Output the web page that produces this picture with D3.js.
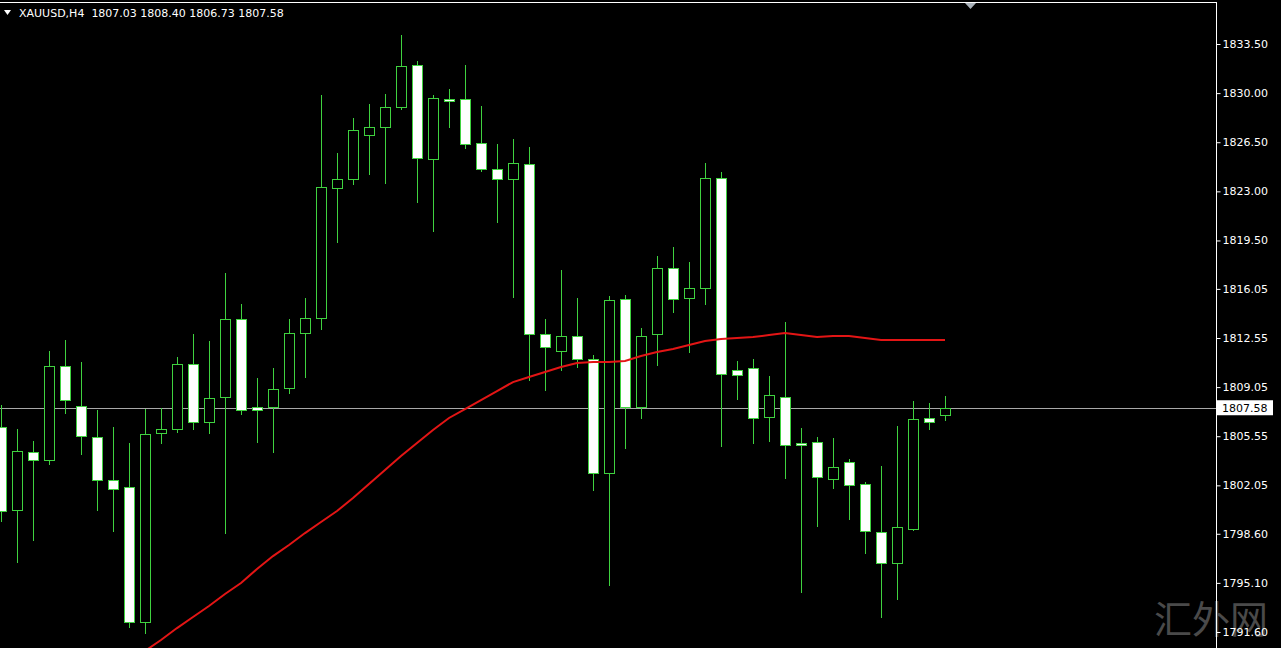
<!DOCTYPE html>
<html>
<head>
<meta charset="utf-8">
<script src="https://cdn.jsdelivr.net/npm/d3@7"></script>
<style>
  html, body { margin: 0; padding: 0; background: #000; overflow: hidden; }
  svg { display: block; }
</style>
</head>
<body>
<svg id="chart" width="1281" height="648"></svg>
<script>
// ---- data (XAUUSD, H4) ----
const symbol = "XAUUSD,H4";
const lastBar = ["1807.03", "1808.40", "1806.73", "1807.58"];
const bars = d3.range(60);
const opens  = [1806.21,1800.29,1804.43,1803.86,1810.55,1807.70,1805.50,1802.43,1801.93,1792.31,
                1805.78,1806.06,1810.70,1806.56,1808.35,1813.90,1807.60,1807.63,1808.99,1812.91,
                1813.97,1823.24,1823.88,1827.02,1827.59,1829.01,1832.00,1825.31,1829.55,1829.58,
                1826.45,1824.59,1823.88,1824.95,1812.83,1811.62,1812.69,1811.05,1802.93,1815.33,
                1807.63,1812.83,1817.54,1815.40,1816.11,1823.95,1810.27,1810.41,1806.92,1808.35,
                1805.10,1805.14,1802.50,1803.71,1802.15,1798.72,1796.52,1798.94,1806.85,1807.03];
const highs  = [1807.78,1806.06,1805.21,1811.62,1812.41,1810.84,1807.42,1806.21,1805.07,1807.49,
                1807.56,1811.20,1812.83,1812.34,1817.18,1814.97,1809.70,1810.41,1813.90,1815.40,
                1829.87,1825.73,1828.23,1829.22,1829.94,1834.14,1832.29,1829.87,1830.29,1832.00,
                1829.08,1826.37,1826.73,1826.16,1813.90,1817.40,1815.40,1811.34,1815.54,1815.61,
                1813.26,1818.39,1819.03,1817.97,1825.02,1824.38,1810.91,1811.05,1809.84,1813.69,
                1806.14,1805.50,1805.42,1803.93,1802.29,1803.43,1806.28,1808.06,1807.92,1808.40];
const lows   = [1799.51,1796.59,1798.16,1803.57,1807.21,1804.28,1800.29,1798.80,1791.96,1791.53,
                1805.07,1805.85,1806.06,1805.78,1798.65,1807.13,1805.14,1804.43,1808.63,1809.77,
                1813.19,1819.39,1823.52,1824.24,1823.59,1828.87,1822.24,1820.17,1827.59,1826.09,
                1824.45,1820.82,1815.47,1809.56,1808.84,1810.27,1810.48,1801.72,1794.95,1804.71,
                1806.85,1810.63,1814.40,1811.55,1814.97,1804.85,1808.20,1805.07,1805.21,1802.57,
                1794.45,1799.15,1801.86,1799.65,1797.23,1792.67,1793.95,1798.85,1806.06,1806.73];
const closes = [1800.22,1804.50,1803.86,1810.55,1808.13,1805.57,1802.43,1801.79,1792.31,1805.71,
                1806.06,1810.70,1806.56,1808.27,1813.90,1807.42,1807.40,1808.92,1812.91,1813.97,
                1823.31,1823.88,1827.37,1827.59,1829.01,1831.93,1825.38,1829.65,1829.47,1826.37,
                1824.59,1823.88,1825.02,1812.83,1811.91,1812.69,1811.05,1802.93,1815.26,1807.63,
                1812.69,1817.54,1815.33,1816.11,1823.95,1809.98,1809.91,1806.85,1808.49,1804.92,
                1804.92,1802.64,1803.36,1802.07,1798.80,1796.52,1799.08,1806.78,1806.56,1807.58];
const maValues = [null,null,null,null,null,null,null,null,null,1790.25,
                1791.03,1791.88,1792.67,1793.45,1794.31,1795.09,1796.09,1797.01,1797.80,1798.65,
                1799.44,1800.22,1801.15,1802.15,1803.14,1804.14,1805.07,1805.99,1806.85,1807.49,
                1808.13,1808.77,1809.41,1809.77,1810.13,1810.48,1810.77,1810.84,1810.84,1810.91,
                1811.27,1811.55,1811.77,1812.05,1812.34,1812.48,1812.55,1812.62,1812.76,1812.91,
                1812.76,1812.62,1812.69,1812.69,1812.55,1812.41,1812.41,1812.41,1812.41,1812.41];
const priceTicks = ["1833.50","1830.00","1826.50","1823.00","1819.50","1816.05","1812.55",
                    "1809.05","1805.55","1802.05","1798.60","1795.10","1791.60"];
const currentPrice = 1807.58;

// ---- setup ----
const W = 1281, H = 648, axisX = 1216;
const green = "#3fd23f";
const svg = d3.select("#chart");
svg.append("rect").attr("width", W).attr("height", H).attr("fill", "#000");

const x = d3.scaleLinear().domain([0, 59]).range([1, 945]);
const y = d3.scaleLinear().domain([1791.60, 1833.50]).range([632, 44]);

// watermark
svg.append("text")
  .attr("x", 1211).attr("y", 633)
  .attr("text-anchor", "middle")
  .attr("font-family", "'Noto Sans CJK SC', sans-serif")
  .attr("font-size", 38)
  .attr("fill", "#4a4a4a")
  .text("汇外网");

const plot = svg.append("g");
plot.append("clipPath").attr("id", "clip")
  .append("rect").attr("x", 0).attr("y", 3).attr("width", axisX).attr("height", H - 3);

// current price line
plot.append("line")
  .attr("x1", 0).attr("x2", axisX)
  .attr("y1", Math.round(y(currentPrice)) + 0.5).attr("y2", Math.round(y(currentPrice)) + 0.5)
  .attr("stroke", "#a8a8a8").attr("stroke-width", 1);

const px = v => Math.round(v);
const candles = plot.append("g").attr("clip-path", "url(#clip)");
bars.forEach(i => {
  const cx = px(x(i));
  const o = opens[i], c = closes[i], h = highs[i], l = lows[i];
  candles.append("line")
    .attr("x1", cx + 0.5).attr("x2", cx + 0.5)
    .attr("y1", px(y(h))).attr("y2", px(y(l)) + 1)
    .attr("stroke", green).attr("stroke-width", 1);
  const top = px(y(Math.max(o, c))), bot = px(y(Math.min(o, c)));
  candles.append("rect")
    .attr("x", cx - 4.5).attr("width", 10)
    .attr("y", top + 0.5).attr("height", Math.max(bot - top, 1))
    .attr("fill", c >= o ? "#000" : "#fff")
    .attr("stroke", green).attr("stroke-width", 1);
});

// moving average
const ma = d3.line()
  .defined(d => d != null)
  .x((d, i) => x(i))
  .y(d => y(d));
plot.append("path")
  .datum(maValues)
  .attr("d", ma)
  .attr("fill", "none")
  .attr("stroke", "#e31515")
  .attr("stroke-width", 2)
  .attr("clip-path", "url(#clip)");

// frame
svg.append("line").attr("x1", 0).attr("x2", axisX + 0.5).attr("y1", 2.5).attr("y2", 2.5)
  .attr("stroke", "#fff").attr("stroke-width", 1);
svg.append("line").attr("x1", axisX + 0.5).attr("x2", axisX + 0.5).attr("y1", 2).attr("y2", H)
  .attr("stroke", "#fff").attr("stroke-width", 1);

// shift marker
svg.append("path").attr("d", "M965,3 L976,3 L970.5,9 Z").attr("fill", "#a9b1b9");

// price axis
const axis = d3.axisRight(y)
  .tickValues(priceTicks.map(Number))
  .tickFormat((d, i) => priceTicks[i])
  .tickSize(4).tickPadding(2);
const ag = svg.append("g").attr("transform", `translate(${axisX + 0.5},0)`).call(axis);
ag.select(".domain").remove();
ag.selectAll(".tick line").attr("stroke", "#fff");
ag.selectAll(".tick text")
  .attr("fill", "#fff")
  .attr("font-family", "'DejaVu Sans', sans-serif")
  .attr("font-size", 11);

// current price label
const cy = y(currentPrice);
svg.append("rect").attr("x", axisX + 1).attr("y", cy - 7.5).attr("width", 56).attr("height", 15)
  .attr("fill", "#fff");
svg.append("text").attr("x", axisX + 6).attr("y", cy).attr("dy", "0.35em")
  .attr("font-family", "'DejaVu Sans', sans-serif").attr("font-size", 11)
  .attr("fill", "#000").text(currentPrice.toFixed(2));

// header
svg.append("path").attr("d", "M4,10 L11,10 L7.5,15 Z").attr("fill", "#fff");
svg.append("text").attr("x", 19).attr("y", 17)
  .attr("font-family", "'DejaVu Sans', sans-serif").attr("font-size", 11)
  .attr("fill", "#fff").attr("xml:space", "preserve")
  .text(symbol + "  " + lastBar.join(" "));
</script>
</body>
</html>
